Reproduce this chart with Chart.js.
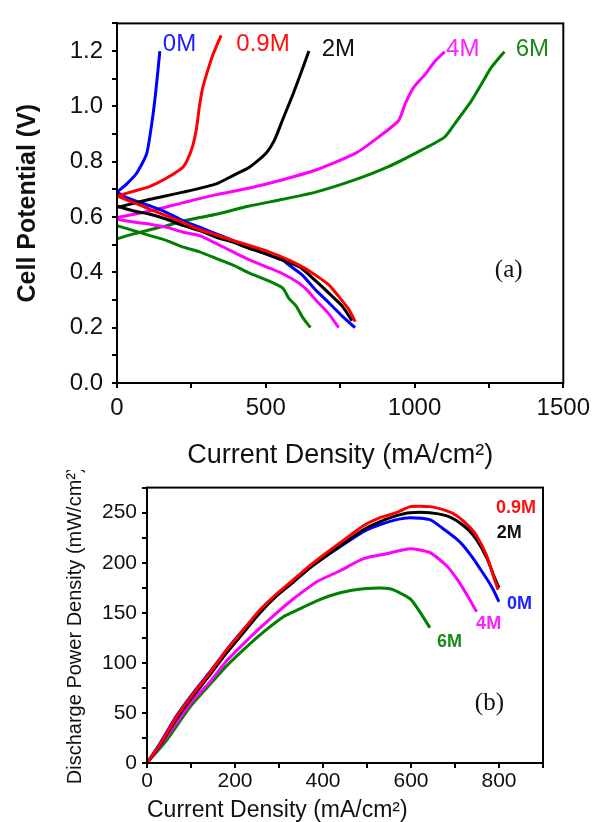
<!DOCTYPE html>
<html>
<head>
<meta charset="utf-8">
<script src="https://cdn.jsdelivr.net/npm/chart.js@4.4.1/dist/chart.umd.min.js"></script>
<style>
	body { margin: 0; overflow: hidden; background: #fff; }
	#wrap { position: relative; width: 596px; height: 822px; overflow: hidden; }
	canvas { position: absolute; left: 0; }
</style>
</head>
<body>
<div id="wrap">
	<canvas id="chartA" width="596" height="480" style="top:0"></canvas>
	<canvas id="chartB" width="596" height="360" style="top:470px"></canvas>
</div>
<script>
// (a) polarization curves: [current density mA/cm2, cell potential V]
const charge0M = [[0, 0.69], [33, 0.72], [67, 0.76], [100, 0.83], [121, 0.97], [132, 1.07], [144, 1.20]];
const discharge0M = [[0, 0.69], [33, 0.67], [111, 0.64], [167, 0.616], [223, 0.586], [278, 0.563], [334, 0.539], [390, 0.515], [445, 0.49], [501, 0.466], [557, 0.444], [578, 0.426], [623, 0.39], [667, 0.337], [712, 0.29], [757, 0.242], [800, 0.20]];
const charge09M = [[0, 0.676], [56, 0.693], [111, 0.711], [167, 0.741], [223, 0.782], [250, 0.842], [266, 0.913], [277, 1.0], [288, 1.067], [305, 1.13], [322, 1.186], [350, 1.257]];
const discharge09M = [[0, 0.676], [56, 0.652], [111, 0.628], [167, 0.604], [223, 0.58], [278, 0.554], [334, 0.535], [390, 0.515], [445, 0.497], [511, 0.474], [578, 0.444], [623, 0.42], [667, 0.39], [712, 0.355], [745, 0.313], [779, 0.266], [801, 0.222]];
const charge2M = [[0, 0.634], [56, 0.65], [111, 0.664], [223, 0.69], [334, 0.72], [390, 0.75], [445, 0.78], [500, 0.83], [530, 0.88], [556, 0.95], [590, 1.04], [611, 1.10], [645, 1.20]];
const discharge2M = [[0, 0.64], [56, 0.622], [111, 0.61], [167, 0.592], [223, 0.569], [278, 0.551], [334, 0.527], [390, 0.509], [445, 0.486], [501, 0.468], [557, 0.444], [613, 0.42], [667, 0.37], [712, 0.325], [757, 0.278], [790, 0.225]];
const charge4M = [[0, 0.598], [111, 0.622], [223, 0.652], [334, 0.681], [445, 0.705], [557, 0.735], [668, 0.77], [801, 0.83], [879, 0.889], [946, 0.948], [968, 1.008], [996, 1.067], [1035, 1.115], [1068, 1.162], [1101, 1.198]];
const discharge4M = [[0, 0.592], [67, 0.58], [111, 0.574], [167, 0.563], [223, 0.545], [278, 0.533], [334, 0.504], [390, 0.474], [445, 0.445], [501, 0.42], [557, 0.395], [613, 0.36], [640, 0.335], [668, 0.30], [712, 0.25], [745, 0.20]];
const charge6M = [[0, 0.521], [56, 0.539], [111, 0.554], [167, 0.569], [223, 0.586], [278, 0.598], [334, 0.61], [445, 0.64], [557, 0.664], [668, 0.69], [801, 0.735], [912, 0.782], [1023, 0.842], [1101, 0.889], [1135, 0.937], [1191, 1.02], [1224, 1.079], [1257, 1.139], [1302, 1.198]];
const discharge6M = [[0, 0.569], [56, 0.551], [111, 0.533], [167, 0.515], [223, 0.491], [278, 0.474], [334, 0.45], [390, 0.426], [445, 0.397], [501, 0.373], [557, 0.343], [578, 0.305], [601, 0.28], [624, 0.237], [650, 0.20]];

// (b) discharge power density: [current density mA/cm2, mW/cm2]
const power09M = [[0, 0], [30, 19], [67, 46], [105, 69], [143, 90], [181, 113], [219, 133], [257, 153], [295, 169], [333, 183], [370, 197], [408, 210], [439, 220], [492, 237], [530, 245], [567, 250], [598, 256], [643, 256], [680, 252], [704, 247], [730, 237], [749, 227], [772, 207], [787, 187], [798, 173]];
const power2M = [[0, 0], [30, 18], [67, 44], [105, 67], [143, 88], [181, 110], [219, 130], [257, 150], [295, 167], [333, 181], [370, 195], [408, 207], [439, 217], [492, 233], [530, 241], [567, 247], [598, 250], [643, 250], [680, 247], [704, 242], [730, 233], [749, 223], [772, 205], [790, 185], [800, 175]];
const power0M = [[0, 0], [30, 20], [67, 47], [105, 70], [143, 91], [181, 113], [219, 133], [257, 152], [295, 168], [333, 181], [370, 195], [408, 207], [439, 216], [492, 231], [530, 238], [567, 243], [598, 245], [643, 243], [673, 234], [700, 225], [719, 217], [740, 205], [757, 194], [775, 182], [787, 173], [800, 161]];
const power4M = [[0, 0], [30, 17], [67, 40], [105, 63], [143, 81], [181, 102], [219, 119], [257, 135], [295, 150], [333, 164], [386, 181], [439, 192], [492, 204], [545, 209], [598, 214], [643, 210], [681, 197], [704, 184], [727, 168], [749, 151]];
const power6M = [[0, 0], [45, 23], [98, 56], [136, 75], [181, 97], [219, 113], [257, 128], [310, 146], [333, 151], [386, 162], [439, 170], [492, 174], [552, 174], [598, 164], [620, 151], [643, 135]];

const seriesNames = ['0.9M', '2M', '0M', '4M', '6M'];
const seriesColors = ['#ff0000', '#000000', '#0000ff', '#ff00ff', '#008000'];

Chart.defaults.font.family = "'Liberation Sans', Arial, sans-serif";
Chart.defaults.color = '#111';

function pts(arr) {
	return arr.map(function (p) { return { x: p[0], y: p[1] }; });
}

function line(label, data, color) {
	return {
		label: label,
		data: pts(data),
		borderColor: color,
		backgroundColor: color,
		borderWidth: 3,
		pointRadius: 0,
		showLine: true,
		tension: 0.2
	};
}

// frame round the plot area
const frame = {
	id: 'frame',
	afterDatasetsDraw(chart) {
		const a = chart.chartArea, ctx = chart.ctx;
		ctx.save();
		ctx.strokeStyle = '#000';
		ctx.lineWidth = 2;
		ctx.strokeRect(a.left, a.top, a.right - a.left, a.bottom - a.top);
		ctx.restore();
	}
};

// series names and panel letters, placed in data units
const textLabels = {
	id: 'textLabels',
	afterDraw(chart, args, opts) {
		const ctx = chart.ctx, x = chart.scales.x, y = chart.scales.y;
		ctx.save();
		ctx.textAlign = 'left';
		ctx.textBaseline = 'middle';
		opts.items.forEach(function (it) {
			ctx.font = it.font;
			ctx.fillStyle = it.color;
			ctx.fillText(it.text, x.getPixelForValue(it.x), y.getPixelForValue(it.y));
		});
		ctx.restore();
	}
};

function axisGrid() {
	return { display: true, drawOnChartArea: false, drawTicks: true, tickLength: 5, color: '#000', lineWidth: 2 };
}

document.addEventListener("DOMContentLoaded", function () {
	const topSets = [
		[charge09M, discharge09M], [charge2M, discharge2M], [charge0M, discharge0M],
		[charge4M, discharge4M], [charge6M, discharge6M]
	];
	const dsA = [];
	topSets.forEach(function (pair, i) {
		dsA.push(line(seriesNames[i], pair[0], seriesColors[i]));
		dsA.push(line(seriesNames[i], pair[1], seriesColors[i]));
	});

	var chartA = new Chart(document.getElementById('chartA'), {
		type: 'scatter',
		data: { datasets: dsA },
		plugins: [frame, textLabels],
		options: {
			responsive: false,
			animation: false,
			layout: { padding: { top: 17, right: 30, left: 0, bottom: 0 } },
			plugins: {
				legend: { display: false },
				tooltip: { enabled: false },
				textLabels: {
					items: [
						{ text: '0M', x: 154, y: 1.225, color: '#2020ff', font: '24px "Liberation Sans"' },
						{ text: '0.9M', x: 401, y: 1.225, color: '#ff1010', font: '24px "Liberation Sans"' },
						{ text: '2M', x: 688, y: 1.207, color: '#111', font: '24px "Liberation Sans"' },
						{ text: '4M', x: 1106, y: 1.207, color: '#ff20ff', font: '24px "Liberation Sans"' },
						{ text: '6M', x: 1340, y: 1.207, color: '#1a8a1a', font: '24px "Liberation Sans"' },
						{ text: '(a)', x: 1270, y: 0.406, color: '#111', font: '25px "Liberation Serif"' }
					]
				}
			},
			scales: {
				x: {
					type: 'linear', min: 0, max: 1500,
					afterFit: function (s) { s.height = 97; },
					grid: axisGrid(),
					border: { display: true, color: '#000', width: 2 },
					ticks: {
						stepSize: 250, autoSkip: false, maxRotation: 0, padding: 6,
						font: { size: 24 },
						callback: function (v) { return v % 500 === 0 ? String(v) : ''; }
					},
					title: {
						display: true, text: 'Current Density (mA/cm²)',
						font: { size: 27 }, padding: { top: 0, bottom: 8 }
					}
				},
				y: {
					type: 'linear', min: 0, max: 1.3,
					afterFit: function (s) { s.width = 117; },
					grid: axisGrid(),
					border: { display: true, color: '#000', width: 2 },
					ticks: {
						stepSize: 0.1, autoSkip: false, padding: 9,
						font: { size: 24 },
						callback: function (v) { return Math.round(v * 10) % 2 === 0 ? v.toFixed(1) : ''; }
					},
					title: {
						display: true, text: 'Cell Potential (V)',
						font: { size: 25, weight: 'bold' }, padding: { top: 13, bottom: 0 }
					}
				}
			}
		}
	});

	const powerSets = [power09M, power2M, power0M, power4M, power6M];
	const dsB = powerSets.map(function (arr, i) { return line(seriesNames[i], arr, seriesColors[i]); });

	var chartB = new Chart(document.getElementById('chartB'), {
		type: 'scatter',
		data: { datasets: dsB },
		plugins: [frame, textLabels],
		options: {
			responsive: false,
			animation: false,
			layout: { padding: { top: 15, right: 53, left: 0, bottom: 0 } },
			plugins: {
				legend: { display: false },
				tooltip: { enabled: false },
				textLabels: {
					items: [
						{ text: '0.9M', x: 793, y: 255, color: '#ff1010', font: 'bold 18px "Liberation Sans"' },
						{ text: '2M', x: 795, y: 230, color: '#111', font: 'bold 18px "Liberation Sans"' },
						{ text: '0M', x: 818, y: 159, color: '#2020ff', font: 'bold 18px "Liberation Sans"' },
						{ text: '4M', x: 748, y: 139, color: '#ff20ff', font: 'bold 18px "Liberation Sans"' },
						{ text: '6M', x: 659, y: 120.5, color: '#1a8a1a', font: 'bold 18px "Liberation Sans"' },
						{ text: '(b)', x: 745, y: 59, color: '#111', font: '25px "Liberation Serif"' }
					]
				}
			},
			scales: {
				x: {
					type: 'linear', min: 0, max: 900,
					afterFit: function (s) { s.height = 67; },
					grid: axisGrid(),
					border: { display: true, color: '#000', width: 2 },
					ticks: {
						stepSize: 100, autoSkip: false, maxRotation: 0, padding: 1,
						font: { size: 21 },
						callback: function (v) { return v % 200 === 0 ? String(v) : ''; }
					},
					title: {
						display: true, text: 'Current Density (mA/cm²)', align: 'start',
						font: { size: 23 }, padding: { top: 0, bottom: 6 }
					}
				},
				y: {
					type: 'linear', min: 0, max: 275,
					afterFit: function (s) { s.width = 147; },
					grid: axisGrid(),
					border: { display: true, color: '#000', width: 2 },
					ticks: {
						stepSize: 25, autoSkip: false, padding: 5,
						font: { size: 21 },
						callback: function (v) { return v % 50 === 0 ? String(v) : ''; }
					},
					title: {
						display: true, text: 'Discharge Power Density (mW/cm²)',
						font: { size: 20 }, padding: { top: 63, bottom: 0 }
					}
				}
			}
		}
	});
});
</script>
</body>
</html>
